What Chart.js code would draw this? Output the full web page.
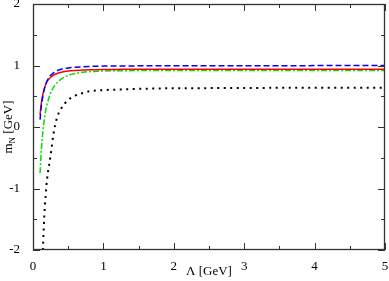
<!DOCTYPE html>
<html>
<head>
<meta charset="utf-8">
<script src="https://cdn.jsdelivr.net/npm/chart.js@4"></script>
<style>
  html, body { margin: 0; padding: 0; background: #fff; }
  #wrap { width: 389px; height: 281px; }
</style>
</head>
<body>
<div id="wrap"><canvas id="chart" width="389" height="281"></canvas></div>
<script>
// cutoff values (GeV)
const lambda = [0.1, 0.12, 0.14, 0.16, 0.18, 0.2, 0.25, 0.3, 0.35, 0.4, 0.5, 0.6, 0.7, 0.8, 1.0, 1.25, 1.5, 2, 2.5, 3, 3.5, 4, 4.5, 5];

// nucleon mass curves (GeV)
const redSolid   = [0.2, 0.4, 0.53, 0.62, 0.69, 0.74, 0.81, 0.85, 0.875, 0.89, 0.91, 0.92, 0.925, 0.93, 0.935, 0.937, 0.938, 0.94, 0.94, 0.94, 0.94, 0.94, 0.94, 0.94];
const blueDashed = [0.12, 0.35, 0.5, 0.61, 0.69, 0.75, 0.84, 0.89, 0.92, 0.94, 0.96, 0.97, 0.978, 0.984, 0.99, 0.992, 0.994, 0.995, 0.996, 0.997, 0.997, 0.998, 0.998, 0.998];
const greenDashDot = [-0.75, -0.35, -0.08, 0.12, 0.27, 0.37, 0.55, 0.66, 0.73, 0.78, 0.84, 0.87, 0.89, 0.9, 0.91, 0.915, 0.918, 0.92, 0.92, 0.92, 0.92, 0.92, 0.92, 0.92];
const blackDotted = [null, null, -2.0, -1.46, -1.1, -0.85, -0.46, -0.05, 0.18, 0.3, 0.44, 0.51, 0.55, 0.58, 0.6, 0.61, 0.62, 0.63, 0.632, 0.635, 0.637, 0.64, 0.64, 0.64];

const xTicks = [0, 1, 2, 3, 4, 5];
const yTicks = [-2, -1, 0, 1, 2];

const pts = arr => lambda.map((x, i) => ({ x, y: arr[i] }));

const FONT = '"Liberation Serif", "DejaVu Serif", serif';

// frame, inward ticks and axis titles
const framePlugin = {
  id: 'frame',
  afterDraw(chart) {
    const { ctx, chartArea: a, scales: { x, y } } = chart;
    ctx.save();
    ctx.strokeStyle = '#333';
    ctx.lineWidth = 1.3;
    ctx.strokeRect(a.left + 0.5, a.top + 0.5, a.right - a.left - 1, a.bottom - a.top - 1);
    ctx.lineWidth = 1;
    ctx.beginPath();
    for (let v = 0; v <= 5; v += 0.5) {
      const px = Math.round(x.getPixelForValue(v)) + 0.5;
      const len = Number.isInteger(v) ? 7 : 4;
      ctx.moveTo(px, a.bottom); ctx.lineTo(px, a.bottom - len);
      ctx.moveTo(px, a.top); ctx.lineTo(px, a.top + len);
    }
    for (let v = -2; v <= 2; v += 0.5) {
      const py = Math.round(y.getPixelForValue(v)) + 0.5;
      const len = Number.isInteger(v) ? 7 : 4;
      ctx.moveTo(a.left, py); ctx.lineTo(a.left + len, py);
      ctx.moveTo(a.right, py); ctx.lineTo(a.right - len, py);
    }
    ctx.stroke();

    ctx.fillStyle = '#000';
    ctx.font = '13px ' + FONT;
    ctx.textAlign = 'center';
    ctx.textBaseline = 'middle';
    ctx.fillText('\u039B [GeV]', (a.left + a.right) / 2, 272);

    // y title with subscript
    ctx.translate(9, (a.top + a.bottom) / 2);
    ctx.rotate(-Math.PI / 2);
    ctx.textAlign = 'left';
    const m = 'm', sub = 'N', rest = ' [GeV]';
    ctx.font = '13px ' + FONT;
    const wm = ctx.measureText(m).width;
    const wr = ctx.measureText(rest).width;
    ctx.font = '9px ' + FONT;
    const ws = ctx.measureText(sub).width;
    const start = -(wm + ws + wr) / 2;
    ctx.font = '13px ' + FONT;
    ctx.fillText(m, start, 0);
    ctx.font = '9px ' + FONT;
    ctx.fillText(sub, start + wm, 4);
    ctx.font = '13px ' + FONT;
    ctx.fillText(rest, start + wm + ws, 0);
    ctx.restore();
  }
};

new Chart(document.getElementById('chart').getContext('2d'), {
  type: 'line',
  data: {
    datasets: [
      { data: pts(blueDashed), borderColor: '#0000ff', borderDash: [6, 3], order: 1 },
      { data: pts(redSolid), borderColor: '#ff0000', order: 2 },
      { data: pts(greenDashDot), borderColor: '#00e000', borderDash: [6, 2, 2, 2], order: 3 },
      { data: pts(blackDotted), borderColor: '#000000', borderDash: [2, 4.5], borderWidth: 2, order: 4 }
    ]
  },
  options: {
    responsive: false,
    animation: false,
    events: [],
    layout: { padding: { top: 4, right: 4, left: 0, bottom: 0 } },
    elements: {
      point: { radius: 0 },
      line: { borderWidth: 1.5, fill: false, cubicInterpolationMode: 'monotone' }
    },
    plugins: { legend: { display: false }, tooltip: { enabled: false } },
    scales: {
      x: {
        type: 'linear', min: 0, max: 5,
        afterFit(s) { s.height = 31; s.paddingLeft = 0; s.paddingRight = 0; },
        afterBuildTicks(s) { s.ticks = xTicks.map(v => ({ value: v })); },
        grid: { display: false },
        border: { display: false },
        ticks: { color: '#000', padding: 1, font: { family: FONT, size: 13 } }
      },
      y: {
        min: -2, max: 2,
        afterFit(s) { s.width = 33; s.paddingTop = 0; s.paddingBottom = 0; },
        afterBuildTicks(s) { s.ticks = yTicks.map(v => ({ value: v })); },
        grid: { display: false },
        border: { display: false },
        ticks: { color: '#000', padding: 5, font: { family: FONT, size: 13 } }
      }
    }
  },
  plugins: [framePlugin]
});
</script>
</body>
</html>
